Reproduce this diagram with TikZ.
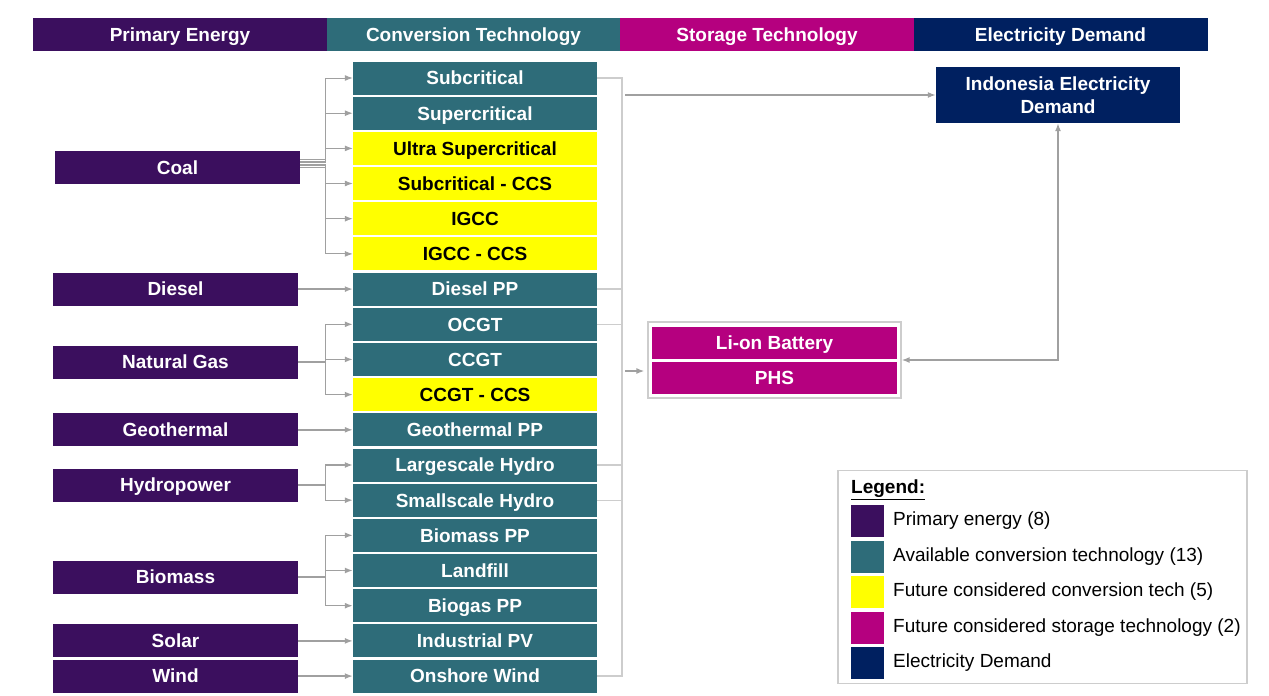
\documentclass[tikz,border=0pt]{standalone}
\usepackage{fontspec}
\setmainfont{Liberation Sans}
\usepackage{tikz}
\usetikzlibrary{arrows,arrows.meta}
\definecolor{prim}{RGB}{59,15,94}
\definecolor{conv}{RGB}{46,108,121}
\definecolor{futr}{RGB}{255,255,0}
\definecolor{stor}{RGB}{181,0,127}
\definecolor{dmnd}{RGB}{0,32,96}
\definecolor{lnc}{RGB}{160,160,160}
\definecolor{busc}{RGB}{205,205,205}
\newcommand{\bx}{\fontsize{19}{23}\selectfont\bfseries}
\newcommand{\rg}{\fontsize{19}{23}\selectfont}

\begin{document}
\begin{tikzpicture}[x=1pt, y=-1pt,
    box/.style={font=\bx, inner sep=0pt, text height=13.6pt, text depth=0pt},
    hd/.style={box, minimum width=294pt, minimum height=33pt, text=white},
    pe/.style={box, fill=prim, text=white, minimum width=245pt, minimum height=33pt},
    ct/.style={box, fill=conv, text=white, minimum width=244pt, minimum height=33pt},
    ft/.style={box, fill=futr, text=black, minimum width=244pt, minimum height=33pt},
    st/.style={box, fill=stor, text=white, minimum width=245pt, minimum height=32pt},
    key/.style={inner sep=0pt, minimum width=33pt, minimum height=32pt},
    arr/.style={->, >={Latex[length=8pt, width=6pt]}, draw=lnc, line width=1.4pt},
    bus/.style={draw=busc, line width=1.4pt}]
     \useasboundingbox (0, 0) rectangle (1269, 696);
     % header bar
     \node [hd, fill=prim] (H1) at (180, 34.5) {Primary Energy};
     \node [hd, fill=conv] (H2) at (473.5, 34.5) {Conversion Technology};
     \node [hd, fill=stor] (H3) at (767, 34.5) {Storage Technology};
     \node [hd, fill=dmnd] (H4) at (1060.5, 34.5) {Electricity Demand};
     % primary energy
     \node [pe] (Coal) at (177.5, 167.5) {Coal};
     \node [pe] (Diesel) at (175.5, 289.1) {Diesel};
     \node [pe] (Gas) at (175.5, 362) {Natural Gas};
     \node [pe] (Geo) at (175.5, 429.8) {Geothermal};
     \node [pe] (Hydro) at (175.5, 485) {Hydropower};
     \node [pe] (Bio) at (175.5, 577) {Biomass};
     \node [pe] (Solar) at (175.5, 640.9) {Solar};
     \node [pe] (Wind) at (175.5, 676.1) {Wind};
     % conversion technology
     \node [ct] (Sub) at (475, 78) {Subcritical};
     \node [ct] (Sup) at (475, 113.2) {Supercritical};
     \node [ft] (USC) at (475, 148.4) {Ultra Supercritical};
     \node [ft] (SubC) at (475, 183.5) {Subcritical - CCS};
     \node [ft] (IG) at (475, 218.7) {IGCC};
     \node [ft] (IGC) at (475, 253.9) {IGCC - CCS};
     \node [ct] (DPP) at (475, 289.1) {Diesel PP};
     \node [ct] (OCGT) at (475, 324.3) {OCGT};
     \node [ct] (CCGT) at (475, 359.4) {CCGT};
     \node [ft] (CCGTC) at (475, 394.6) {CCGT - CCS};
     \node [ct] (GPP) at (475, 429.8) {Geothermal PP};
     \node [ct] (LH) at (475, 465) {Largescale Hydro};
     \node [ct] (SH) at (475, 500.2) {Smallscale Hydro};
     \node [ct] (BPP) at (475, 535.3) {Biomass PP};
     \node [ct] (LF) at (475, 570.5) {Landfill};
     \node [ct] (BG) at (475, 605.7) {Biogas PP};
     \node [ct] (IPV) at (475, 640.9) {Industrial PV};
     \node [ct] (OW) at (475, 676.1) {Onshore Wind};
     % storage and demand
     \node [draw=busc, line width=1.2pt, minimum width=253pt, minimum height=76pt] (Stor) at (774.5, 360) {};
     \node [st] (Li) at (774.5, 343) {Li-on Battery};
     \node [st] (PHS) at (774.5, 378) {PHS};
     \node [fill=dmnd, text=white, font=\bx, align=center, inner sep=0pt,
       minimum width=244pt, minimum height=56pt] (Dem) at (1058, 95) {Indonesia Electricity\\Demand};
     % connectors into conversion
     \draw [arr, line width=1pt] ([yshift=8pt]Coal.east) -- ++(25, 0) |- (Sub.west);
     \draw [arr, line width=1pt] ([yshift=6.4pt]Coal.east) -- ++(25, 0) |- (Sup.west);
     \draw [arr, line width=1pt] ([yshift=4.8pt]Coal.east) -- ++(25, 0) |- (USC.west);
     \draw [arr, line width=1pt] ([yshift=3.2pt]Coal.east) -- ++(25, 0) |- (SubC.west);
     \draw [arr, line width=1pt] ([yshift=1.6pt]Coal.east) -- ++(25, 0) |- (IG.west);
     \draw [arr, line width=1pt] (Coal.east) -- ++(25, 0) |- (IGC.west);
     \draw [arr] (Diesel) -- (DPP);
     \draw [arr] (Gas.east) -- ++(27, 0) |- (OCGT.west);
     \draw [arr] (Gas.east) -- ++(27, 0) |- (CCGT.west);
     \draw [arr] (Gas.east) -- ++(27, 0) |- (CCGTC.west);
     \draw [arr] (Geo) -- (GPP);
     \draw [arr] (Hydro.east) -- ++(27, 0) |- (LH.west);
     \draw [arr] (Hydro.east) -- ++(27, 0) |- (SH.west);
     \draw [arr] (Bio.east) -- ++(27, 0) |- (BPP.west);
     \draw [arr] (Bio.east) -- ++(27, 0) |- (LF.west);
     \draw [arr] (Bio.east) -- ++(27, 0) |- (BG.west);
     \draw [arr] (Solar) -- (IPV);
     \draw [arr] (Wind) -- (OW);
     % collecting bus
     \coordinate (BT) at (622, 78);
     \draw [bus] (Sub.east) -- (BT) |- (OW.east);
     \draw [bus] (DPP.east) -- (DPP.east -| BT);
     \draw [bus] (OCGT.east) -- (OCGT.east -| BT);
     \draw [bus] (LH.east) -- (LH.east -| BT);
     \draw [bus] (SH.east) -- (SH.east -| BT);
     \coordinate (B1) at (625, 95);
     \coordinate (B2) at (625, 371);
     \draw [arr] (B1) -- (Dem.west);
     \draw [arr, shorten >=3pt] (B2) -- (B2 -| Stor.west);
     \draw [arr, <->] (Dem.south) |- (Stor.east);
     % legend
     \node [draw=busc, line width=1.2pt, minimum width=409pt, minimum height=213pt] (Leg) at (1042.5, 577) {};
     \node [anchor=west, inner sep=0pt, font=\bx] (LegT) at (851, 490) {\underline{Legend:}};
     \node [key, fill=prim] (K1) at (867.5, 520.5) {};
     \node [key, fill=conv] (K2) at (867.5, 556.5) {};
     \node [key, fill=futr] (K3) at (867.5, 592) {};
     \node [key, fill=stor] (K4) at (867.5, 627.5) {};
     \node [key, fill=dmnd] (K5) at (867.5, 663) {};
     \node [anchor=west, inner sep=0pt, font=\rg] (T1) at (893, 520.5) {Primary energy (8)};
     \node [anchor=west, inner sep=0pt, font=\rg] (T2) at (893, 556.5) {Available conversion technology (13)};
     \node [anchor=west, inner sep=0pt, font=\rg] (T3) at (893, 592) {Future considered conversion tech (5)};
     \node [anchor=west, inner sep=0pt, font=\rg] (T4) at (893, 627.5) {Future considered storage technology (2)};
     \node [anchor=west, inner sep=0pt, font=\rg] (T5) at (893, 663) {Electricity Demand};
    \end{tikzpicture}
\end{document}
